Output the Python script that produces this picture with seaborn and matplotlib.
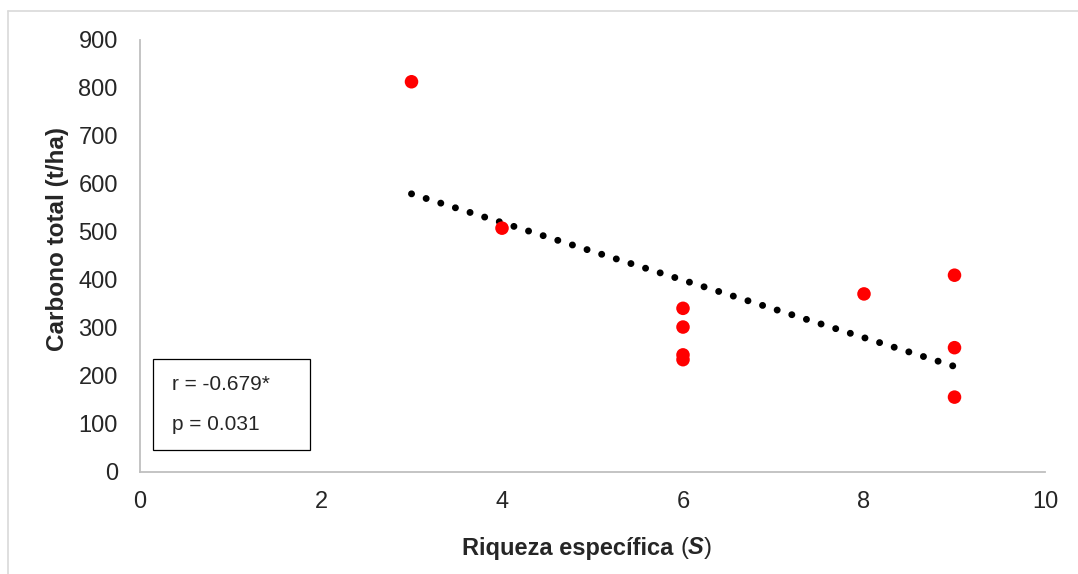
import numpy as np
import pandas as pd
import seaborn as sns
import matplotlib.pyplot as plt
from matplotlib.patches import Rectangle
from matplotlib.lines import Line2D

# data
riqueza = [3, 4, 6, 6, 6, 6, 8, 9, 9, 9]
carbono = [813, 508, 341, 302, 244, 234, 371, 410, 259, 156]
x_ticks = [0, 2, 4, 6, 8, 10]
y_ticks = [0, 100, 200, 300, 400, 500, 600, 700, 800, 900]
stats_text = ['r = -0.679*', 'p = 0.031']

df = pd.DataFrame({'S': riqueza, 'C': carbono})

sns.set_style('white')
plt.rcParams['font.family'] = ['Liberation Sans', 'DejaVu Sans']

W, H = 1078, 574
fig = plt.figure(figsize=(W / 100, H / 100), dpi=100)
ax = fig.add_axes([140 / W, 1 - 472 / H, 905 / W, 432 / H])

# dotted trend line
sns.regplot(data=df, x='S', y='C', ax=ax, scatter=False, ci=None,
            line_kws=dict(color='black', lw=5, linestyle=(0, (0.01, 2.2)),
                          dash_capstyle='round'))
sns.scatterplot(data=df, x='S', y='C', ax=ax, color='#FF0000', s=95,
                edgecolor='none', zorder=3)

ax.set_xlim(0, 10)
ax.set_ylim(0, 900)
ax.set_xticks(x_ticks)
ax.set_yticks(y_ticks)
ax.tick_params(axis='both', length=0, labelsize=17)
ax.tick_params(axis='y', pad=16)
ax.tick_params(axis='x', pad=14)
for s in ['top', 'right']:
    ax.spines[s].set_visible(False)
for s in ['left', 'bottom']:
    ax.spines[s].set_color('#BFBFBF')
    ax.spines[s].set_linewidth(1.3)

ax.set_xlabel('')
ax.set_ylabel('Carbono total (t/ha)', fontsize=17.5, fontweight='bold')
ax.yaxis.set_label_coords((69 - 140) / 905, (472 - 239) / 432)

# x label assembled from pieces: bold text, italic bold S, plain parentheses
xl_y = 1 - 548 / H
t1 = fig.text(462 / W, xl_y, 'Riqueza específica ', fontsize=17, fontweight='bold',
              ha='left', va='center')
fig.canvas.draw()
r = fig.canvas.get_renderer()
bb = t1.get_window_extent(r)
t2 = fig.text(bb.x1 / W, xl_y, '(', fontsize=17, ha='left', va='center')
bb = t2.get_window_extent(r)
t3 = fig.text(bb.x1 / W, xl_y, 'S', fontsize=17, fontweight='bold', style='italic',
              ha='left', va='center')
bb = t3.get_window_extent(r)
fig.text(bb.x1 / W, xl_y, ')', fontsize=17, ha='left', va='center')

# stats box
ax.add_patch(Rectangle((13 / 905, 22 / 432), 157 / 905, 91 / 432, transform=ax.transAxes,
                       facecolor='white', edgecolor='black', lw=0.9, zorder=4))
ax.text(32 / 905, (472 - 384) / 432, stats_text[0], transform=ax.transAxes,
        fontsize=15, va='center', ha='left', zorder=5)
ax.text(32 / 905, (472 - 425) / 432, stats_text[1], transform=ax.transAxes,
        fontsize=15, va='center', ha='left', zorder=5)

# light frame on the left and top edges of the picture
fig.add_artist(Line2D([8 / W, 8 / W], [0, 1 - 11 / H], color='#D9D9D9', lw=1.2))
fig.add_artist(Line2D([8 / W, 1], [1 - 11 / H, 1 - 11 / H], color='#D9D9D9', lw=1.2))

fig.savefig('out.png', dpi=100)
